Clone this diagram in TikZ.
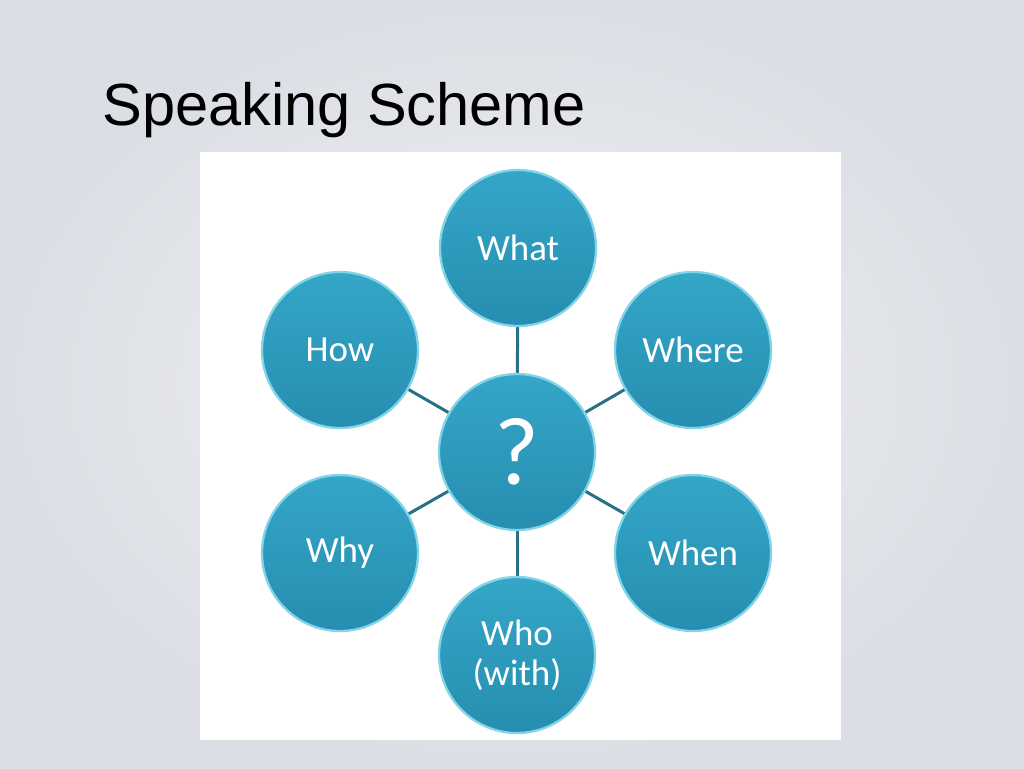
\documentclass[tikz,border=0pt]{standalone}
\usepackage{fontspec}
\setmainfont{Liberation Sans}
\newfontfamily\bubblefont{Carlito}
\usetikzlibrary{backgrounds}
\definecolor{fondin}{RGB}{240,241,244}
\definecolor{fondout}{RGB}{219,222,228}
\definecolor{bulletop}{RGB}{52,166,200}
\definecolor{bullebot}{RGB}{38,142,176}
\definecolor{bullerim}{RGB}{130,212,230}
\definecolor{liencol}{RGB}{40,112,134}

\begin{document}
\begin{tikzpicture}[x=0.02cm,y=-0.02cm,
  bulle/.style={circle,minimum size=3.12cm,inner sep=0pt,align=center,
    top color=bulletop,bottom color=bullebot,draw=bullerim,line width=1.3pt,
    text=white,font=\bubblefont\fontsize{21}{23}\selectfont},
  lien/.style={liencol,line width=1.7pt}]
  \def\cx{517}\def\cy{452}
  \useasboundingbox (0,0) rectangle (1024,768);

  % titre
  \node[anchor=base west,inner sep=0pt,font=\fontsize{33.9}{40}\selectfont] (titre) at (102,125) {Speaking Scheme};

  % bulles
  \node[bulle,font=\bubblefont\fontsize{55}{55}\selectfont] (q) at (\cx,\cy) {?};
  \foreach \nom/\x/\y/\txt in {what/518/248/What, where/693/350/Where, when/693/553/When,
      who/517/655/{Who\\(with)}, why/340/553/Why, how/340/350/How}
    \node[bulle] (\nom) at (\x,\y) {\txt};

  \begin{scope}[on background layer]
    % fond de la diapo
    \shade[inner color=fondin,outer color=fondout] (0,0) rectangle (1024,768);
    \fill[white] (200,152) rectangle (841,740);
    % liens
    \foreach \nom in {what,where,when,who,why,how}
      \draw[lien] (q) -- (\nom);
  \end{scope}
\end{tikzpicture}
\end{document}
